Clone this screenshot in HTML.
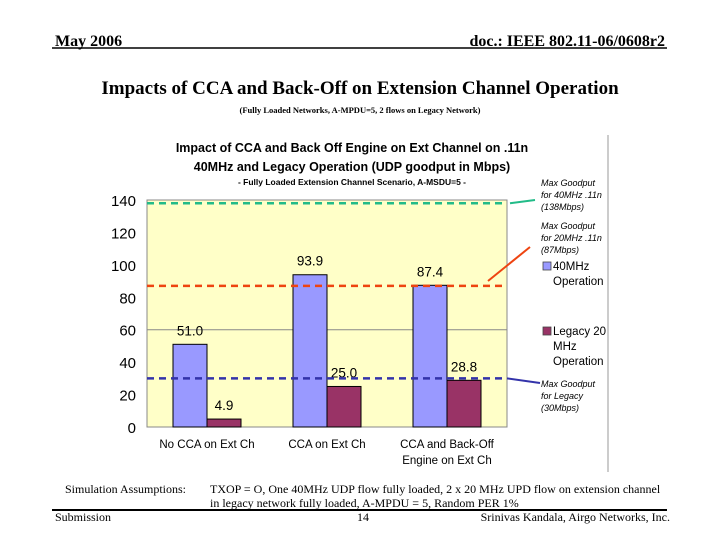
<!DOCTYPE html>
<html><head><meta charset="utf-8"><style>
body{margin:0;background:#fff;width:720px;height:540px;overflow:hidden}
svg{display:block}
.ser{font-family:"Liberation Serif",serif}
.sans{font-family:"Liberation Sans",sans-serif}
</style></head><body>
<svg id="c" width="720" height="540">
<text class="ser" x="55" y="46" font-size="16" font-weight="bold">May 2006</text>
<text class="ser" x="665" y="46" font-size="16" font-weight="bold" text-anchor="end">doc.: IEEE 802.11-06/0608r2</text>
<line x1="52" y1="48" x2="667" y2="48" stroke="#000" stroke-width="1.5"/>
<text class="ser" x="360" y="94" font-size="19" font-weight="bold" text-anchor="middle">Impacts of CCA and Back-Off on Extension Channel Operation</text>
<text class="ser" x="360" y="113" font-size="8.5" font-weight="bold" text-anchor="middle">(Fully Loaded Networks, A-MPDU=5, 2 flows on Legacy Network)</text>
<line x1="608" y1="135" x2="608" y2="472" stroke="#999" stroke-width="1"/>
<text class="sans" x="352" y="152" font-size="12.5" font-weight="bold" text-anchor="middle">Impact of CCA and Back Off Engine on Ext Channel on .11n</text>
<text class="sans" x="352" y="171" font-size="12.5" font-weight="bold" text-anchor="middle">40MHz and Legacy Operation  (UDP goodput in Mbps)</text>
<text class="sans" x="352" y="185" font-size="8.5" font-weight="bold" text-anchor="middle">- Fully Loaded Extension Channel Scenario, A-MSDU=5 -</text>
<rect x="147" y="200" width="360" height="227" fill="#ffffc8" stroke="#888" stroke-width="1"/>
<g id="marks"></g>
<text class="ser" x="65" y="493" font-size="12">Simulation Assumptions:</text>
<text class="ser" x="210" y="493" font-size="12">TXOP = O, One 40MHz UDP flow fully loaded, 2 x 20 MHz UPD flow on extension channel</text>
<text class="ser" x="210" y="507" font-size="12">in legacy network fully loaded, A-MPDU = 5, Random PER 1%</text>
<line x1="52" y1="510" x2="667" y2="510" stroke="#000" stroke-width="2"/>
<text class="ser" x="55" y="521" font-size="12">Submission</text>
<text class="ser" x="363" y="521" font-size="12" text-anchor="middle">14</text>
<text class="ser" x="670" y="521" font-size="12" text-anchor="end">Srinivas Kandala, Airgo Networks, Inc.</text>
</svg>
<script>
const categories=[["No CCA on Ext Ch"],["CCA on Ext Ch"],["CCA and Back-Off","Engine on Ext Ch"]];
const series40=[51.0,93.9,87.4];
const seriesLegacy=[4.9,25.0,28.8];
const yTicks=[0,20,40,60,80,100,120,140];
const refValues=[138,87,30];
const refColors=["#22bb88","#ee4411","#3333aa"];
const NS="http://www.w3.org/2000/svg";
const g=document.getElementById("marks");
const X0=147,W=360,Y0=427,H=227,YMAX=140;
const y=v=>Y0-v/YMAX*H;
const bw=W/categories.length;
function el(t,a,txt){const e=document.createElementNS(NS,t);for(const k in a)e.setAttribute(k,a[k]);if(txt!=null)e.textContent=txt;g.appendChild(e);return e;}
yTicks.forEach(t=>{
  if(t===60){const l=el("line",{x1:X0,x2:X0+W,y1:y(t),y2:y(t),stroke:"#888","stroke-width":1});
  
  }
  const tx=el("text",{x:136,y:y(t)+6,"font-size":15,"text-anchor":"end",class:"sans"},t);
  
  
});
categories.forEach((c,i)=>{
  const cx=X0+bw*i+bw/2;
  const b1=el("rect",{x:cx-34,y:y(series40[i]),width:34,height:Y0-y(series40[i]),fill:"#9999ff",stroke:"#000","stroke-width":1});
  
  
  const b2=el("rect",{x:cx,y:y(seriesLegacy[i]),width:34,height:Y0-y(seriesLegacy[i]),fill:"#993366",stroke:"#000","stroke-width":1});
  
  
  const l1=el("text",{x:cx-17,y:y(series40[i])-9,"font-size":13.5,"text-anchor":"middle",class:"sans"},series40[i].toFixed(1));
  
  
  const l2=el("text",{x:cx+17,y:y(seriesLegacy[i])-9,"font-size":13.5,"text-anchor":"middle",class:"sans"},seriesLegacy[i].toFixed(1));
  
  
  c.forEach((s,j)=>{const t=el("text",{x:cx,y:448+j*16,"font-size":11.5,"text-anchor":"middle",class:"sans"},s);
  
  });
});
refValues.forEach((v,i)=>{
  const l=el("line",{x1:X0,x2:X0+W,y1:y(v),y2:y(v),stroke:refColors[i],"stroke-width":2.5,"stroke-dasharray":"7,5"});
  
  
});
const a1=el("line",{x1:510,y1:y(refValues[0]),x2:535,y2:200,stroke:refColors[0],"stroke-width":2});


const a2=el("line",{x1:488,y1:281,x2:530,y2:247,stroke:refColors[1],"stroke-width":2});


const a3=el("line",{x1:507,y1:y(refValues[2]),x2:540,y2:383,stroke:refColors[2],"stroke-width":2});


const notes=[[186,["Max Goodput","for 40MHz .11n","(138Mbps)"]],[229,["Max Goodput","for 20MHz .11n","(87Mbps)"]],[387,["Max Goodput","for Legacy","(30Mbps)"]]];
notes.forEach(n=>n[1].forEach((s,j)=>{const t=el("text",{x:541,y:n[0]+j*12,"font-size":9,"font-style":"italic",class:"sans"},s);

}));
const lg=[[270,"#9999ff",["40MHz","Operation"]],[335,"#993366",["Legacy 20","MHz","Operation"]]];
lg.forEach(L=>{
  const r=el("rect",{x:543,y:L[0]-8,width:8,height:8,fill:L[1],stroke:"#444","stroke-width":0.8});
  
  
  L[2].forEach((s,j)=>{const t=el("text",{x:553,y:L[0]+j*15,"font-size":11.5,class:"sans"},s);
  
  });
});
</script>
</body></html>
